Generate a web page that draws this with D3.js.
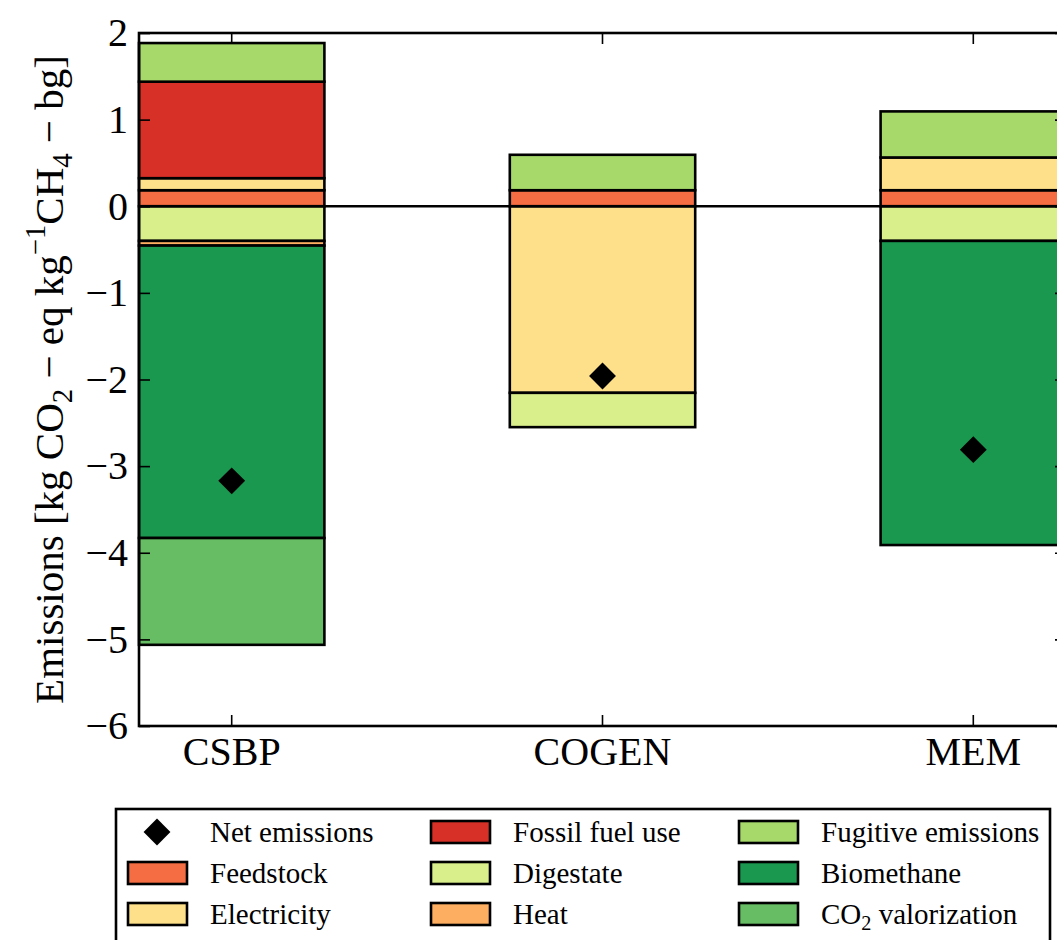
<!DOCTYPE html>
<html>
<head>
<meta charset="utf-8">
<script src="https://cdn.jsdelivr.net/npm/d3@7"></script>
<style>
  html, body { margin: 0; padding: 0; background: #fff; }
  svg { display: block; }
  text { font-family: "Liberation Serif", "DejaVu Serif", serif; fill: #000; }
</style>
</head>
<body>
<div id="chart"></div>
<script>
// ---- Data ----
const categories = ["CSBP", "COGEN", "MEM"];
const seriesNames = ["Feedstock", "Electricity", "Fossil fuel use", "Digestate", "Heat",
                     "Fugitive emissions", "Biomethane", "CO2 valorization"];
const seriesColors = ["#f46d43", "#fee08b", "#d73027", "#d9ef8b", "#fdae61",
                      "#a6d96a", "#1a9850", "#66bd63"];
const feedstock  = [0.185, 0.185, 0.185];
const electricity = [0.139, -2.154, 0.378];
const fossil     = [1.114, 0, 0];
const digestate  = [-0.40, -0.396, -0.40];
const heat       = [-0.054, 0, 0];
const fugitive   = [0.446, 0.409, 0.532];
const biomethane = [-3.376, 0, -3.511];
const co2valor   = [-1.233, 0, 0];
const netEmissions = [-3.17, -1.96, -2.81];
const yTicks = [-6, -5, -4, -3, -2, -1, 0, 1, 2];

const seriesValues = [feedstock, electricity, fossil, digestate, heat, fugitive, biomethane, co2valor];

// ---- Layout ----
const W = 1057, H = 940;
const mLeft = 139, mRight = 1066, mTop = 33, mBottom = 726;
const lw = 2.6;

const svg = d3.select("#chart").append("svg").attr("width", W).attr("height", H);

const x = d3.scaleBand().domain(categories).range([mLeft, mRight]).paddingInner(0.5).paddingOuter(0);
const y = d3.scaleLinear().domain([-6, 2]).range([mBottom, mTop]);

// table for stacking
const table = categories.map((c, i) => {
  const row = { cat: c };
  seriesNames.forEach((s, j) => row[s] = seriesValues[j][i]);
  return row;
});
const stacked = d3.stack().keys(seriesNames).offset(d3.stackOffsetDiverging)(table);

const barsG = svg.append("g");
stacked.forEach((layer, j) => {
  barsG.selectAll(null)
    .data(layer.filter(d => d[1] !== d[0]))
    .join("rect")
    .attr("x", d => x(d.data.cat))
    .attr("width", x.bandwidth())
    .attr("y", d => y(Math.max(d[0], d[1])))
    .attr("height", d => Math.abs(y(d[0]) - y(d[1])))
    .attr("fill", seriesColors[j])
    .attr("stroke", "#000")
    .attr("stroke-width", lw);
});

// zero line
svg.append("line")
  .attr("x1", mLeft).attr("x2", mRight)
  .attr("y1", y(0)).attr("y2", y(0))
  .attr("stroke", "#000").attr("stroke-width", lw);

// net emissions diamonds
const diamond = d3.symbol().type(d3.symbolSquare).size(19 * 19);
svg.append("g").selectAll("path")
  .data(categories)
  .join("path")
  .attr("d", diamond)
  .attr("transform", (c, i) => `translate(${x(c) + x.bandwidth() / 2},${y(netEmissions[i])}) rotate(45)`)
  .attr("fill", "#000");

// axes
const fs = 40;
const yAxis = svg.append("g").attr("transform", `translate(${mLeft},0)`)
  .call(d3.axisLeft(y).tickValues(yTicks).tickSize(-11).tickPadding(11).tickFormat(d3.format("d")));
const yAxisR = svg.append("g").attr("transform", `translate(${mRight},0)`)
  .call(d3.axisRight(y).tickValues(yTicks).tickSize(-11).tickFormat(""));
const xAxis = svg.append("g").attr("transform", `translate(0,${mBottom})`)
  .call(d3.axisBottom(x).tickSize(-11).tickPadding(11));
const xAxisT = svg.append("g").attr("transform", `translate(0,${mTop})`)
  .call(d3.axisTop(x).tickSize(-11).tickFormat(""));

[yAxis, yAxisR, xAxis, xAxisT].forEach(g => {
  g.select(".domain").remove();
  g.selectAll(".tick line").attr("stroke", "#000").attr("stroke-width", 1.6);
  g.selectAll(".tick text").attr("font-size", fs).attr("font-family", "Liberation Serif");
});

// frame
svg.append("rect")
  .attr("x", mLeft).attr("y", mTop)
  .attr("width", mRight - mLeft).attr("height", mBottom - mTop)
  .attr("fill", "none").attr("stroke", "#000").attr("stroke-width", lw);

// y label
const lfsY = 41;
const yl = svg.append("text")
  .attr("transform", `translate(63,${(mTop + mBottom) / 2}) rotate(-90)`)
  .attr("text-anchor", "middle")
  .attr("font-size", lfsY);
yl.append("tspan").text("Emissions [kg CO");
yl.append("tspan").attr("font-size", lfsY * 0.7).attr("dy", 9).text("2");
yl.append("tspan").attr("dy", -9).text(" \u2212 eq kg");
yl.append("tspan").attr("font-size", lfsY * 0.7).attr("dy", -18).text("\u22121");
yl.append("tspan").attr("dy", 18).text("CH");
yl.append("tspan").attr("font-size", lfsY * 0.7).attr("dy", 9).text("4");
yl.append("tspan").attr("dy", -9).text(" \u2212 bg]");

// legend
const lg = svg.append("g");
lg.append("rect")
  .attr("x", 116).attr("y", 809).attr("width", 934).attr("height", 160)
  .attr("fill", "#fff").attr("stroke", "#000").attr("stroke-width", lw);

const legendItems = [{ name: "Net emissions", marker: true }]
  .concat(seriesNames.map((s, j) => ({ name: s, color: seriesColors[j] })));
const colX = [128, 431, 739];
const rowY = [832, 873, 914];
const lfs = 29;
legendItems.forEach((it, k) => {
  const col = Math.floor(k / 3), row = k % 3;
  const px = colX[col], py = rowY[row];
  if (it.marker) {
    lg.append("path").attr("d", diamond)
      .attr("transform", `translate(${px + 29},${py}) rotate(45)`)
      .attr("fill", "#000");
  } else {
    lg.append("rect").attr("x", px).attr("y", py - 11).attr("width", 59).attr("height", 22)
      .attr("fill", it.color).attr("stroke", "#000").attr("stroke-width", lw);
  }
  const t = lg.append("text").attr("x", px + 82).attr("y", py).attr("dy", "0.35em").attr("font-size", lfs);
  if (it.name === "CO2 valorization") {
    t.append("tspan").text("CO");
    t.append("tspan").attr("font-size", lfs * 0.7).attr("dy", 6).text("2");
    t.append("tspan").attr("dy", -6).text(" valorization");
  } else {
    t.text(it.name);
  }
});
</script>
</body>
</html>
